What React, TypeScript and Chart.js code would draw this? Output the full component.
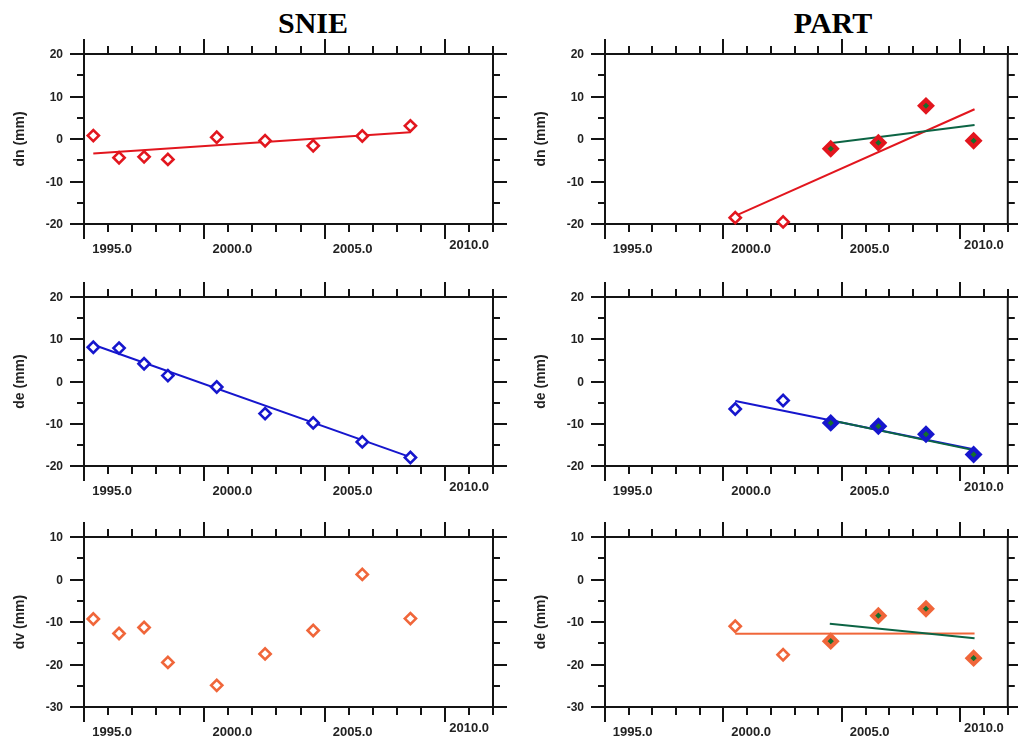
import React, { useEffect, useRef } from 'react';
import { Chart, registerables } from 'chart.js';

Chart.register(...registerables);

// ---- axes ----
const X_MIN = 1993.833;
const X_MAX = 2010.833;
const X_TICK_LABELS = [1995, 2000, 2005, 2010];
const Y_RANGE_HORIZ = [-20, 20];
const Y_RANGE_VERT = [-30, 10];

// ---- SNIE campaigns ----
const SNIE_YEARS = [1994.22, 1995.29, 1996.33, 1997.32, 1999.35, 2001.36, 2003.36, 2005.4, 2007.4];
const SNIE_DN = [0.8, -4.4, -4.2, -4.8, 0.4, -0.4, -1.6, 0.7, 3.1];
const SNIE_DE = [8.1, 7.9, 4.2, 1.4, -1.3, -7.6, -9.8, -14.3, -18.0];
const SNIE_DV = [-9.3, -12.7, -11.3, -19.5, -24.9, -17.5, -12.0, 1.2, -9.2];
const SNIE_FIT_YEARS = [1994.22, 2007.4];
const SNIE_DN_FIT = [-3.4, 1.6];
const SNIE_DE_FIT = [8.7, -17.9];

// ---- PART campaigns ----
const PART_YEARS = [1999.33, 2001.35, 2003.36, 2005.37, 2007.38, 2009.39];
const PART_DN = [-18.5, -19.5, -2.3, -0.9, 7.8, -0.4];
const PART_DE = [-6.5, -4.5, -9.8, -10.6, -12.5, -17.3];
const PART_DV = [-11.0, -17.7, -14.5, -8.5, -6.9, -18.5];
const PART_FIRST_FILLED = 2;
const PART_FIT_ALL_YEARS = [1999.33, 2009.43];
const PART_FIT_LATE_YEARS = [2003.32, 2009.43];
const PART_DN_FIT_ALL = [-18.1, 7.0];
const PART_DN_FIT_LATE = [-1.0, 3.3];
const PART_DE_FIT_ALL = [-4.6, -16.1];
const PART_DE_FIT_LATE = [-9.1, -16.3];
const PART_DV_FIT_ALL = [-12.75, -12.7];
const PART_DV_FIT_LATE = [-10.4, -13.8];

// ---- colours ----
const RED = 'rgb(226,22,30)';
const BLUE = 'rgb(22,22,205)';
const ORANGE = 'rgb(240,102,58)';
const GREEN_LINE = 'rgb(12,100,68)';
const GREEN_FILL = 'rgb(20,112,45)';
const FONT = "'Liberation Sans', Arial, Helvetica, sans-serif";

const pts = (xs: number[], ys: number[]) => xs.map((x, i) => ({ x, y: ys[i] }));

const openMarkers = (xs: number[], ys: number[], color: string) => ({
  data: pts(xs, ys),
  pointStyle: 'rectRot',
  pointRadius: 5.6,
  borderWidth: 2.6,
  borderColor: color,
  backgroundColor: '#ffffff',
  showLine: false,
  clip: false,
  order: 0,
});

const filledMarkers = (xs: number[], ys: number[], color: string) => ({
  data: pts(xs, ys),
  pointStyle: 'rectRot',
  pointRadius: 6,
  borderWidth: 4.2,
  borderColor: color,
  backgroundColor: GREEN_FILL,
  showLine: false,
  clip: false,
  order: 0,
});

const fitLine = (xs: number[], ys: number[], color: string) => ({
  data: pts(xs, ys),
  showLine: true,
  pointRadius: 0,
  borderWidth: 2,
  borderColor: color,
  backgroundColor: color,
  fill: false,
  order: 1,
});

const snieSets = (ys: number[], color: string, fit?: number[]) => {
  const s: any[] = [openMarkers(SNIE_YEARS, ys, color)];
  if (fit) s.push(fitLine(SNIE_FIT_YEARS, fit, color));
  return s;
};

const partSets = (ys: number[], color: string, fitAll: number[], fitLate: number[]) => [
  openMarkers(PART_YEARS.slice(0, PART_FIRST_FILLED), ys.slice(0, PART_FIRST_FILLED), color),
  filledMarkers(PART_YEARS.slice(PART_FIRST_FILLED), ys.slice(PART_FIRST_FILLED), color),
  fitLine(PART_FIT_LATE_YEARS, fitLate, GREEN_LINE),
  fitLine(PART_FIT_ALL_YEARS, fitAll, color),
];

const COLS = [
  { left: 0, padL: 84, padR: 16 },
  { left: 509, padL: 96, padR: 4 },
];
const ROWS = [
  { top: 20, h: 236, padT: 34, padB: 32 },
  { top: 256, h: 241, padT: 41, padB: 31 },
  { top: 497, h: 243, padT: 40, padB: 33 },
];
const COL_W = 509;

const PANELS = [
  { row: 0, col: 0, title: 'dn (mm)', range: Y_RANGE_HORIZ, sets: () => snieSets(SNIE_DN, RED, SNIE_DN_FIT) },
  { row: 0, col: 1, title: 'dn (mm)', range: Y_RANGE_HORIZ, sets: () => partSets(PART_DN, RED, PART_DN_FIT_ALL, PART_DN_FIT_LATE) },
  { row: 1, col: 0, title: 'de (mm)', range: Y_RANGE_HORIZ, sets: () => snieSets(SNIE_DE, BLUE, SNIE_DE_FIT) },
  { row: 1, col: 1, title: 'de (mm)', range: Y_RANGE_HORIZ, sets: () => partSets(PART_DE, BLUE, PART_DE_FIT_ALL, PART_DE_FIT_LATE) },
  { row: 2, col: 0, title: 'dv (mm)', range: Y_RANGE_VERT, sets: () => snieSets(SNIE_DV, ORANGE) },
  { row: 2, col: 1, title: 'de (mm)', range: Y_RANGE_VERT, sets: () => partSets(PART_DV, ORANGE, PART_DV_FIT_ALL, PART_DV_FIT_LATE) },
];

const framePlugin = {
  id: 'frame',
  beforeDatasetsDraw(chart: any) {
    const { ctx, chartArea: a, scales } = chart;
    const x = scales.x;
    const y = scales.y;
    const title = chart.options.plugins.frame.title;
    const seg = (x1: number, y1: number, x2: number, y2: number) => {
      ctx.beginPath();
      ctx.moveTo(x1, y1);
      ctx.lineTo(x2, y2);
      ctx.stroke();
    };
    ctx.save();
    ctx.strokeStyle = '#141414';
    ctx.lineWidth = 2;
    ctx.lineCap = 'butt';
    ctx.strokeRect(a.left, a.top, a.right - a.left, a.bottom - a.top);

    // x ticks: every year, major every 5 from the axis start
    const nYears = Math.round(X_MAX - X_MIN);
    for (let i = 0; i <= nYears; i++) {
      const px = Math.round(x.getPixelForValue(X_MIN + i));
      const len = i % 5 === 0 ? 15 : 8;
      seg(px, a.top, px, a.top - len);
      seg(px, a.bottom, px, a.bottom + len);
    }
    // y ticks: every 5, major every 10
    ctx.fillStyle = '#222';
    ctx.font = `bold 12px ${FONT}`;
    ctx.textAlign = 'right';
    ctx.textBaseline = 'middle';
    for (let v = y.min; v <= y.max + 1e-6; v += 5) {
      const py = Math.round(y.getPixelForValue(v));
      const major = Math.round(v) % 10 === 0;
      const len = major ? 14 : 7;
      seg(a.left, py, a.left - len, py);
      seg(a.right, py, a.right + len, py);
      if (major) ctx.fillText(String(Math.round(v)), a.left - 21, py + 0.5);
    }
    // x labels
    ctx.font = `bold 13px ${FONT}`;
    ctx.textAlign = 'center';
    X_TICK_LABELS.forEach((v) => {
      const txt = v.toFixed(1);
      const w = ctx.measureText(txt).width;
      let px = x.getPixelForValue(v);
      let py = a.bottom + 25.5;
      if (px + w / 2 > a.right - 4) {
        px = a.right - 4 - w / 2;
        py -= 4;
      }
      ctx.fillText(txt, px, py);
    });
    // y title
    ctx.font = `bold 14px ${FONT}`;
    ctx.translate(a.left - 64, (a.top + a.bottom) / 2);
    ctx.rotate(-Math.PI / 2);
    ctx.textAlign = 'center';
    ctx.textBaseline = 'middle';
    ctx.fillText(title, 0, 0);
    ctx.restore();
  },
};

function Panel({ spec }: { spec: (typeof PANELS)[number] }) {
  const ref = useRef<HTMLCanvasElement | null>(null);
  const col = COLS[spec.col];
  const row = ROWS[spec.row];
  useEffect(() => {
    if (!ref.current) return;
    const chart = new Chart(ref.current, {
      type: 'scatter',
      data: { datasets: spec.sets() as any },
      options: {
        responsive: false,
        animation: false,
        events: [],
        layout: { padding: { left: col.padL, right: col.padR, top: row.padT, bottom: row.padB } },
        scales: {
          x: { type: 'linear', min: X_MIN, max: X_MAX, display: false },
          y: { type: 'linear', min: spec.range[0], max: spec.range[1], display: false },
        },
        plugins: {
          legend: { display: false },
          tooltip: { enabled: false },
          frame: { title: spec.title },
        } as any,
      },
      plugins: [framePlugin],
    });
    return () => chart.destroy();
  }, []);
  return (
    <canvas
      ref={ref}
      width={COL_W}
      height={row.h}
      style={{ position: 'absolute', left: col.left, top: row.top, width: COL_W, height: row.h }}
    />
  );
}

const TITLE_STYLE: React.CSSProperties = {
  position: 'absolute',
  top: 8,
  transform: 'translateX(-50%)',
  fontFamily: "'Liberation Serif', 'Times New Roman', serif",
  fontWeight: 'bold',
  fontSize: 30,
  lineHeight: '30px',
  color: '#000',
  whiteSpace: 'nowrap',
};

export default function App() {
  return (
    <div style={{ position: 'fixed', left: 0, top: 0, width: 1018, height: 740, background: '#fff', overflow: 'hidden' }}>
      <div style={{ ...TITLE_STYLE, left: 313 }}>SNIE</div>
      <div style={{ ...TITLE_STYLE, left: 833 }}>PART</div>
      {PANELS.map((p, i) => (
        <Panel key={i} spec={p} />
      ))}
    </div>
  );
}
